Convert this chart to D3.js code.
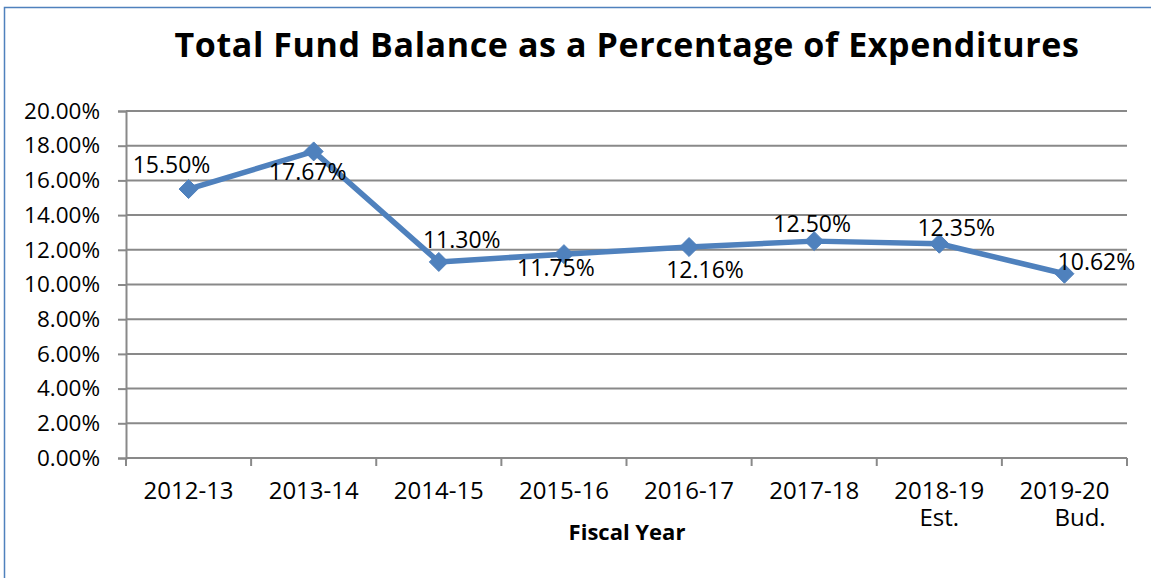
<!DOCTYPE html>
<html>
<head>
<meta charset="utf-8">
<script src="https://cdn.jsdelivr.net/npm/d3@7"></script>
<style>
  body { margin: 0; background: #fff; }
  svg { display: block; font-family: "Open Sans", sans-serif; }
</style>
</head>
<body>
<svg></svg>
<script>
const width = 1151
const height = 578

// data
const years = ["2012-13", "2013-14", "2014-15", "2015-16", "2016-17", "2017-18", "2018-19", "2019-20"]
const yearNotes = ["", "", "", "", "", "", "Est.", "\u00a0\u00a0\u00a0\u00a0\u00a0Bud."]
const balance = [15.50, 17.67, 11.30, 11.75, 12.16, 12.50, 12.35, 10.62]
const yTicks = [0, 2, 4, 6, 8, 10, 12, 14, 16, 18, 20]

// where each data label sits relative to its marker
const labelShift = [[-17, -24], [-6, 21], [23, -22], [-8, 14], [16, 23], [-2, -17], [17, -16], [32, -12]]

const margin = { top: 111, right: 24, bottom: 120, left: 126 }

const svg = d3.select("svg")
  .attr("width", width)
  .attr("height", height)

// chart border
svg.append("path")
  .attr("d", "M4.5," + height + "V7.5H" + width)
  .attr("fill", "none")
  .attr("stroke", "#4f81bd")
  .attr("stroke-width", 1.5)

const x = d3.scaleBand()
  .domain(years)
  .range([margin.left, width - margin.right])

const y = d3.scaleLinear()
  .domain([0, 20])
  .range([height - margin.bottom, margin.top])

svg.append("text")
  .attr("x", 627)
  .attr("y", 57)
  .attr("text-anchor", "middle")
  .style("font-size", "34px")
  .style("letter-spacing", "0.6px")
  .style("font-weight", "bold")
  .text("Total Fund Balance as a Percentage of Expenditures")

// gridlines
svg.append("g")
  .selectAll("line")
  .data(yTicks.slice(1))
  .enter()
  .append("line")
  .attr("x1", margin.left)
  .attr("x2", width - margin.right)
  .attr("y1", d => y(d))
  .attr("y2", d => y(d))
  .attr("stroke", "#898989")
  .attr("stroke-width", 2)

// y axis
const yAxis = svg.append("g")
  .attr("transform", "translate(" + margin.left + ",0)")
  .call(d3.axisLeft(y).tickValues(yTicks).tickSize(8).tickPadding(18)
    .tickFormat(d => d.toFixed(2) + "%"))
yAxis.selectAll("line, path").attr("stroke", "#898989").attr("stroke-width", 2)
yAxis.selectAll("text").style("font-size", "22.5px").attr("fill", "#000").style("font-family", "Open Sans")

// x axis with ticks at category edges
const xAxisG = svg.append("g")
  .attr("transform", "translate(0," + y(0) + ")")
xAxisG.append("line")
  .attr("x1", margin.left)
  .attr("x2", width - margin.right)
  .attr("stroke", "#898989")
  .attr("stroke-width", 2)
const edges = years.map(d => x(d)).concat([x.range()[1]])
xAxisG.selectAll(".edge")
  .data(edges)
  .enter()
  .append("line")
  .attr("class", "edge")
  .attr("x1", d => d)
  .attr("x2", d => d)
  .attr("y1", 0)
  .attr("y2", 8)
  .attr("stroke", "#898989")
  .attr("stroke-width", 2)

xAxisG.selectAll(".cat")
  .data(years)
  .enter()
  .append("text")
  .attr("class", "cat")
  .attr("text-anchor", "middle")
  .attr("x", d => x(d) + x.bandwidth() / 2)
  .attr("y", 41)
  .style("font-size", "24px")
  .text(d => d)

xAxisG.selectAll(".note")
  .data(years)
  .enter()
  .append("text")
  .attr("class", "note")
  .attr("text-anchor", "middle")
  .attr("x", d => x(d) + x.bandwidth() / 2)
  .attr("y", 68)
  .style("font-size", "24px")
  .text((d, i) => yearNotes[i])

svg.append("text")
  .attr("x", 627)
  .attr("y", 540)
  .attr("text-anchor", "middle")
  .style("font-size", "22px")
  .style("font-weight", "bold")
  .text("Fiscal Year")

// line + markers
const cx = d => x(d) + x.bandwidth() / 2
const line = d3.line()
  .x((d, i) => cx(years[i]))
  .y(d => y(d))

svg.append("path")
  .datum(balance)
  .attr("d", line)
  .attr("fill", "none")
  .attr("stroke", "#4f81bd")
  .attr("stroke-width", 5.5)
  .attr("stroke-linejoin", "round")

svg.append("g")
  .selectAll("path")
  .data(balance)
  .enter()
  .append("path")
  .attr("d", d3.symbol().type(d3.symbolDiamond2).size(230))
  .attr("transform", (d, i) => "translate(" + cx(years[i]) + "," + y(d) + ")")
  .attr("fill", "#4f81bd")
  .attr("stroke", "#4f81bd")
  .attr("stroke-width", 1)

svg.append("g")
  .selectAll("text")
  .data(balance)
  .enter()
  .append("text")
  .attr("x", (d, i) => cx(years[i]) + labelShift[i][0])
  .attr("y", (d, i) => y(d) + labelShift[i][1])
  .attr("dy", "0.35em")
  .attr("text-anchor", "middle")
  .style("font-size", "23px")
  .text(d => d.toFixed(2) + "%")
</script>
</body>
</html>
